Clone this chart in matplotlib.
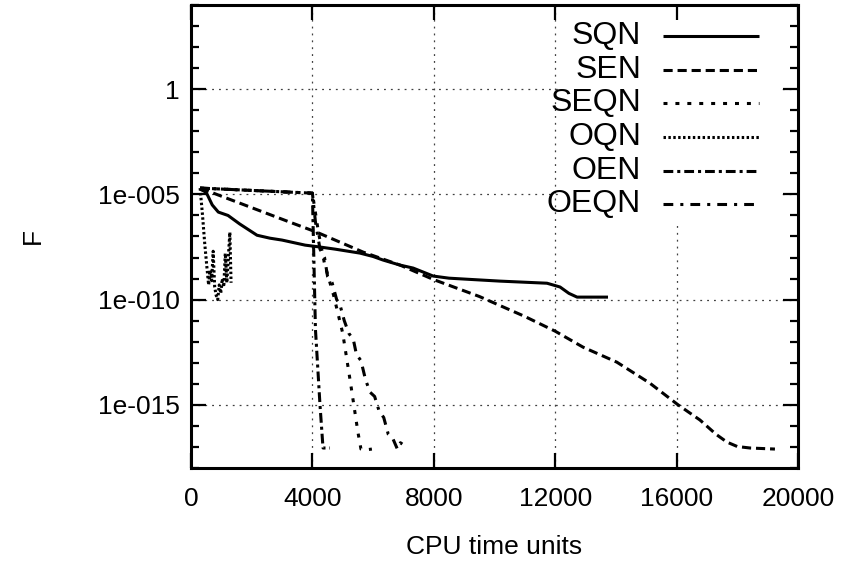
import matplotlib
matplotlib.use("Agg")
import matplotlib.pyplot as plt
import numpy as np
from matplotlib.lines import Line2D
from matplotlib.patches import Rectangle

plt.rcParams['font.family'] = ['Liberation Sans', 'DejaVu Sans']

# ---- data: (CPU time units, log10 F) ----
sqn_x = [300, 500, 700, 900, 1220, 1600, 2175, 2600, 3000, 3760, 4250, 4745, 5570, 6000, 6330,
         6890, 7320, 7980, 8500, 9090, 10180, 11730, 12160, 12450, 12720, 13740]
sqn_y = [-4.75, -4.9, -5.5, -5.84, -6.0, -6.4, -6.94, -7.08, -7.17, -7.41, -7.5, -7.6, -7.79, -7.95, -8.12,
         -8.36, -8.5, -8.88, -8.98, -9.03, -9.12, -9.22, -9.4, -9.7, -9.88, -9.88]

sen_x = [300, 3260, 4150, 5670, 6890, 8000, 9500, 11000, 12000, 12920, 14030, 15120, 16050, 16770,
         17300, 17660, 18000, 18420, 19240]
sen_y = [-4.7, -6.32, -6.8, -7.74, -8.36, -9.05, -9.85, -10.8, -11.5, -12.26, -12.97, -13.97, -15.0, -15.72,
         -16.4, -16.77, -16.98, -17.05, -17.1]

seqn_x = [300, 4000, 4200, 4400, 4700, 5000, 5250, 5500, 5600, 5700, 5960]
seqn_y = [-4.7, -4.94, -6.8, -8.3, -9.8, -11.6, -13.9, -16.3, -17.1, -17.15, -17.1]

oqn_x = [300, 380, 450, 520, 580, 630, 680, 730, 780, 830, 880, 930, 980, 1030, 1080, 1130, 1180, 1230, 1280, 1320]
oqn_y = [-4.7, -6.0, -7.3, -8.4, -9.3, -8.6, -9.1, -7.7, -9.4, -9.8, -10.0, -9.3, -9.7, -9.0, -9.4, -7.8, -9.2, -8.0, -6.8, -9.2]

oen_x = [300, 4000, 4100, 4250, 4350, 4580]
oen_y = [-4.7, -4.94, -11.4, -15.0, -17.05, -17.05]

oeqn_x = [300, 4000, 4100, 4250, 4400, 4500, 4650, 4800, 4900, 5050, 5200, 5350, 5450, 5600, 5750,
          5900, 6050, 6200, 6350, 6500, 6650, 6800, 6900, 7000]
oeqn_y = [-4.7, -4.94, -6.3, -7.6, -8.0, -8.9, -9.2, -10.0, -10.2, -11.0, -11.6, -11.9, -12.6, -12.9, -13.8,
          -14.4, -14.6, -15.3, -15.6, -16.4, -16.6, -17.1, -16.8, -16.9]

labels = ['SQN', 'SEN', 'SEQN', 'OQN', 'OEN', 'OEQN']
xticks = [0, 4000, 8000, 12000, 16000, 20000]
yticks = [1e0, 1e-5, 1e-10, 1e-15]
yticklabels = ['1', '1e-005', '1e-010', '1e-015']

LW = 2.2
styles = [
    (0, ()),
    (0, (3.0, 1.6)),
    (0, (1.3, 2.6)),
    (0, (0.8, 0.8)),
    (0, (3.2, 1.3, 1.0, 1.3)),
    (0, (3.2, 2.3, 1.0, 2.3)),
]

series = [(sqn_x, sqn_y), (sen_x, sen_y), (seqn_x, seqn_y), (oqn_x, oqn_y), (oen_x, oen_y), (oeqn_x, oeqn_y)]

fig = plt.figure(figsize=(8.53, 5.69), dpi=100)
ax = fig.add_axes([191/853, 1-468/569, 607/853, 463/569])
ax.set_yscale('log')
ax.set_xlim(0, 20000)
ax.set_ylim(1e-18, 1e4)

# grid (below everything)
for xv in xticks[1:-1]:
    ax.axvline(xv, color='0.25', lw=0.9, ls=(0, (1.5, 4.0)), zorder=0.5)
for yv in yticks:
    ax.axhline(yv, color='0.25', lw=0.9, ls=(0, (1.5, 4.0)), zorder=0.5)

# white key background hiding the grid
ax.add_patch(Rectangle((558/853, 1-222/569), (779-558)/853, (222-5)/569,
                       transform=fig.transFigure, facecolor='white', edgecolor='none', zorder=1))

for (xs, ys), st in zip(series, styles):
    ax.plot(xs, 10.0**np.array(ys), color='black', lw=LW, ls=st, zorder=2,
            solid_capstyle='butt', dash_capstyle='butt')

# manual key (gnuplot style: right-aligned text, sample to the right)
row_y = [36, 70, 103, 137, 171, 204]
for lab, st, ry in zip(labels, styles, row_y):
    yf = 1 - ry/569
    fig.text(641/853, yf, lab, ha='right', va='center', fontsize=23, zorder=3)
    fig.add_artist(Line2D([663/853, 759/853], [yf, yf], color='black', lw=LW, ls=st,
                          transform=fig.transFigure, dash_capstyle='butt', solid_capstyle='butt'))

ax.set_xticks(xticks)
ax.set_xticklabels([str(v) for v in xticks])
ax.set_yticks(yticks)
ax.set_yticklabels(yticklabels)
minor = [10.0**k for k in range(-18, 5) if k % 5 != 0]
ax.set_yticks(minor, minor=True)
ax.xaxis.set_minor_locator(matplotlib.ticker.NullLocator())
ax.yaxis.set_minor_formatter(matplotlib.ticker.NullFormatter())

ax.tick_params(which='both', direction='in', top=True, right=True, width=1.6, labelsize=19)
ax.tick_params(which='major', length=11)
ax.tick_params(which='minor', length=5.5)
ax.tick_params(axis='x', pad=14)
ax.tick_params(axis='y', pad=8)
for sp in ax.spines.values():
    sp.set_linewidth(2.2)

ax.set_xlabel('CPU time units', fontsize=19, labelpad=17)
ax.set_ylabel('F', fontsize=19, labelpad=38)

fig.savefig('out.png', dpi=100)
